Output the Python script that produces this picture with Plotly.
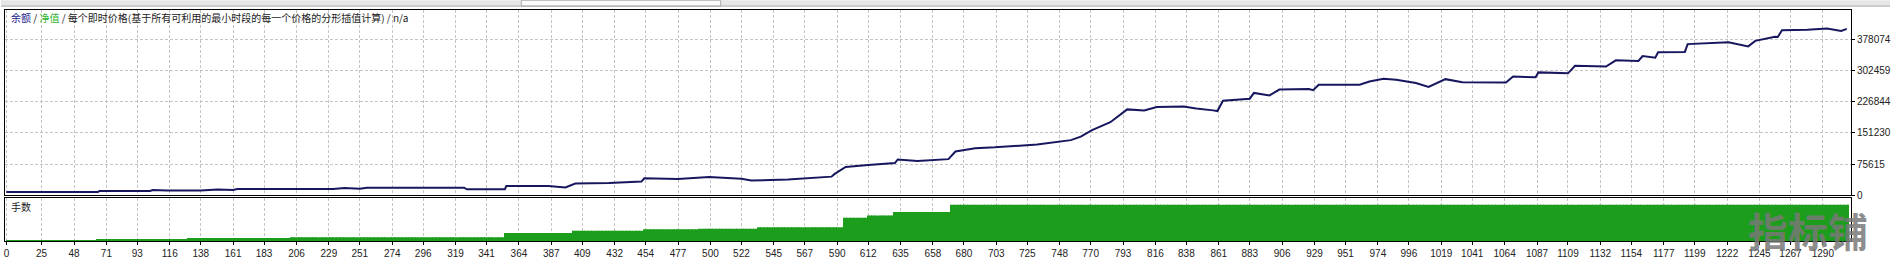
import numpy as np
import plotly.graph_objects as go

# ---------------- data ----------------
trade_no = [0, 65, 66, 102, 104, 114, 138, 150, 161, 164, 232, 240, 251, 256, 325, 327, 354, 355,
            385, 397, 404, 428, 451, 453, 477, 499, 522, 529, 555, 564, 586, 588, 596, 612, 631, 633,
            647, 669, 674, 688, 702, 732, 756, 763, 771, 784, 796, 808, 817, 836, 845, 857, 860, 864,
            883, 886, 897, 904, 925, 928, 932, 961, 968, 978, 987, 1001, 1010, 1022, 1034, 1065, 1070,
            1086, 1088, 1109, 1114, 1136, 1143, 1159, 1162, 1171, 1173, 1192, 1194, 1223, 1237, 1242,
            1256, 1258, 1261, 1279, 1293, 1303, 1307]
balance = [7800, 7800, 10200, 10200, 12500, 11100, 11100, 13500, 12500, 14900, 14900, 17700, 15800,
           18200, 18200, 14200, 14200, 22000, 22000, 18900, 28400, 29500, 33000, 40900, 39500, 44000,
           40000, 35400, 37800, 39500, 45000, 51000, 68500, 73000, 78000, 86700, 82700, 87400, 106000,
           114000, 116000, 123000, 133500, 142000, 158000, 177000, 208000, 205600, 214000, 215000,
           210000, 205600, 204000, 229000, 234000, 248000, 242000, 256000, 257500, 254500, 267700,
           267700, 275800, 282000, 279600, 272000, 262300, 281300, 274100, 273400, 287600, 286000,
           297700, 295400, 313600, 312000, 327000, 325400, 337200, 333200, 346700, 347400, 366300,
           371000, 360800, 374100, 384000, 383500, 400000, 401000, 404000, 398000, 403300]

# lot size per trade, stored as read levels and how many trades stay at each level
lot_levels = [0.2, 0.4, 0.5, 0.8, 1.0, 2.2, 2.8, 3.2, 3.4, 3.8, 6.4, 7.0, 8.0, 10.0]
lot_counts = [64, 46, 19, 73, 152, 48, 51, 39, 42, 61, 17, 18, 41, 638]

x_ticks = [0, 25, 48, 71, 93, 116, 138, 161, 183, 206, 229, 251, 274, 296, 319, 341, 364, 387, 409,
           432, 454, 477, 500, 522, 545, 567, 590, 612, 635, 658, 680, 703, 725, 748, 770, 793, 816,
           838, 861, 883, 906, 929, 951, 974, 996, 1019, 1041, 1064, 1087, 1109, 1132, 1154, 1177,
           1199, 1222, 1245, 1267, 1290]
y_ticks = [0, 75615, 151230, 226844, 302459, 378074]
y_max = 448963

lots = np.repeat(lot_levels, lot_counts)
lot_trade = np.arange(len(lots))

# ---------------- layout geometry ----------------
W, H = 1895, 263
L, R, T, B = 4, 39, 10, 16
PW, PH = W - L - R, H - T - B


def py(ypix):
    return (H - B - ypix) / PH


def px(xpix):
    return (xpix - L) / PW


fig = go.Figure()

fig.add_trace(go.Scatter(x=trade_no, y=balance, mode="lines",
                         line=dict(color="#17175f", width=2), xaxis="x", yaxis="y",
                         hoverinfo="skip"))
fig.add_trace(go.Bar(x=lot_trade, y=lots, marker=dict(color="#1c9e1c", line=dict(width=0)),
                     xaxis="x2", yaxis="y2", hoverinfo="skip"))

grid = dict(showgrid=True, gridcolor="#c4c4c4", gridwidth=1, griddash="3px,2px")
tickfont = dict(family="Liberation Sans, Arial", size=10, color="#222222")

fig.update_layout(
    width=W, height=H,
    margin=dict(l=L, r=R, t=T, b=B),
    paper_bgcolor="white", plot_bgcolor="white",
    showlegend=False, bargap=0.45,
    xaxis=dict(domain=[0, 1], anchor="y", range=[-1, 1310], tickvals=x_ticks,
               showticklabels=False, ticks="", zeroline=False,
               showline=True, linecolor="black", linewidth=1, mirror=True, **grid),
    yaxis=dict(domain=[py(200), 1], anchor="x", side="right", range=[0, y_max],
               tickvals=y_ticks, ticktext=[str(v) for v in y_ticks], tickfont=tickfont,
               ticks="outside", ticklen=3, tickcolor="black", zeroline=False,
               showline=True, linecolor="black", linewidth=1, mirror=True, **grid),
    xaxis2=dict(domain=[0, 1], anchor="y2", range=[-1, 1310], tickvals=x_ticks,
                ticktext=[str(v) for v in x_ticks], tickfont=tickfont, ticks="outside",
                ticklen=3, tickcolor="black", zeroline=False, tickangle=0,
                showline=True, linecolor="black", linewidth=1, mirror=True, **grid),
    yaxis2=dict(domain=[0, py(203)], anchor="x2", range=[0, 11.8], showticklabels=False,
                ticks="", showgrid=False, zeroline=False,
                showline=True, linecolor="black", linewidth=1, mirror=True),
)

# top toolbar strip
fig.add_shape(type="rect", xref="paper", yref="paper", x0=px(0), x1=px(W), y0=py(6), y1=py(0),
              fillcolor="#e6e6e6", line=dict(width=0), layer="below")
fig.add_shape(type="rect", xref="paper", yref="paper", x0=px(522), x1=px(722), y0=py(6), y1=py(0),
              fillcolor="#fbfbfb", line=dict(color="#b0b0b0", width=1), layer="below")
fig.add_shape(type="line", xref="paper", yref="paper", x0=px(0), x1=px(W), y0=py(6), y1=py(6),
              line=dict(color="#a8a8a8", width=1))

cjk = "Noto Sans CJK SC"
fig.add_annotation(
    xref="paper", yref="paper", x=px(8), y=py(18), xanchor="left", yanchor="middle",
    showarrow=False, font=dict(family=cjk, size=10, color="#222222"),
    text=("<span style='color:#1a1a8c'>余额</span> / <span style='color:#2fb52f'>净值</span>"
          " / 每个即时价格(基于所有可利用的最小时段的每一个价格的分形插值计算) / n/a"))
fig.add_annotation(
    xref="paper", yref="paper", x=px(8), y=py(212), xanchor="left", yanchor="middle",
    showarrow=False, font=dict(family=cjk, size=10, color="#222222"), text="手数")
fig.add_annotation(
    xref="paper", yref="paper", x=px(1813), y=py(236), xanchor="center", yanchor="middle",
    showarrow=False, font=dict(family=cjk, size=40, color="rgba(120,120,120,0.85)"),
    text="<b>指标铺</b>")

fig.write_html("out.html")
